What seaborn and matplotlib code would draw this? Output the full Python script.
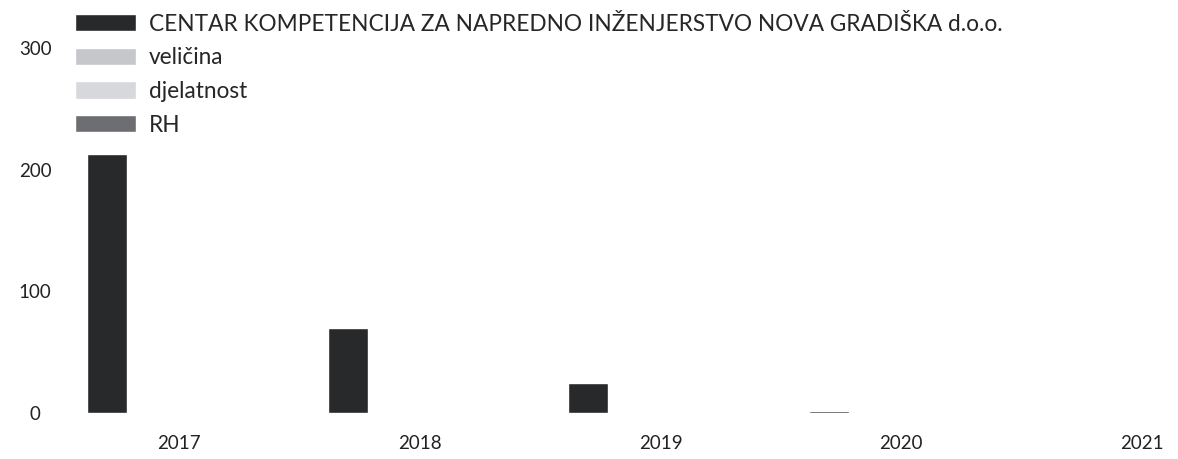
import pandas as pd
import seaborn as sns
import matplotlib.pyplot as plt

years = ['2017', '2018', '2019', '2020', '2021']
series = ['CENTAR KOMPETENCIJA ZA NAPREDNO INŽENJERSTVO NOVA GRADIŠKA d.o.o.',
          'veličina', 'djelatnost', 'RH']
company = [213, 70, 25, 1.5, 0.8]
velicina = [0, 0, 0, 0, 0]
djelatnost = [0, 0, 0, 0, 0]
rh = [0, 0, 0, 0, 0]
colors = ['#27292b', '#c6c7cb', '#d7d8dc', '#6d6e71']

df = pd.DataFrame({'godina': years, series[0]: company, series[1]: velicina,
                   series[2]: djelatnost, series[3]: rh})
df = df.melt(id_vars='godina', var_name='serija', value_name='vrijednost')

sns.set_theme(style='white')
plt.rcParams['font.family'] = ['Lato', 'DejaVu Sans']

fig = plt.figure(figsize=(11.78, 4.59), dpi=100)
ax = fig.add_axes([0.05, 0.10, 0.95, 0.848])
sns.barplot(data=df, x='godina', y='vrijednost', hue='serija', hue_order=series,
            palette=colors, width=0.8, gap=0.17, saturation=1, ax=ax)

ax.set_xlim(-0.5, 4.15)
ax.set_ylim(0, 320)
ax.set_yticks([0, 100, 200, 300])
ax.set_xlabel('')
ax.set_ylabel('')
sns.despine(ax=ax, left=True, bottom=True)
ax.tick_params(axis='y', labelsize=13.5, colors='#222222', pad=11)
for t in ax.get_yticklabels():
    t.set_horizontalalignment('center')
ax.tick_params(axis='x', labelsize=13.5, colors='#222222', pad=10)

ax.legend(loc='upper left', bbox_to_anchor=(0.056, 0.99), bbox_transform=fig.transFigure,
          frameon=False, fontsize=16.3, handlelength=2.7, handleheight=0.8,
          labelspacing=0.56, handletextpad=0.55, borderaxespad=0)

fig.savefig('out.png', dpi=100)
